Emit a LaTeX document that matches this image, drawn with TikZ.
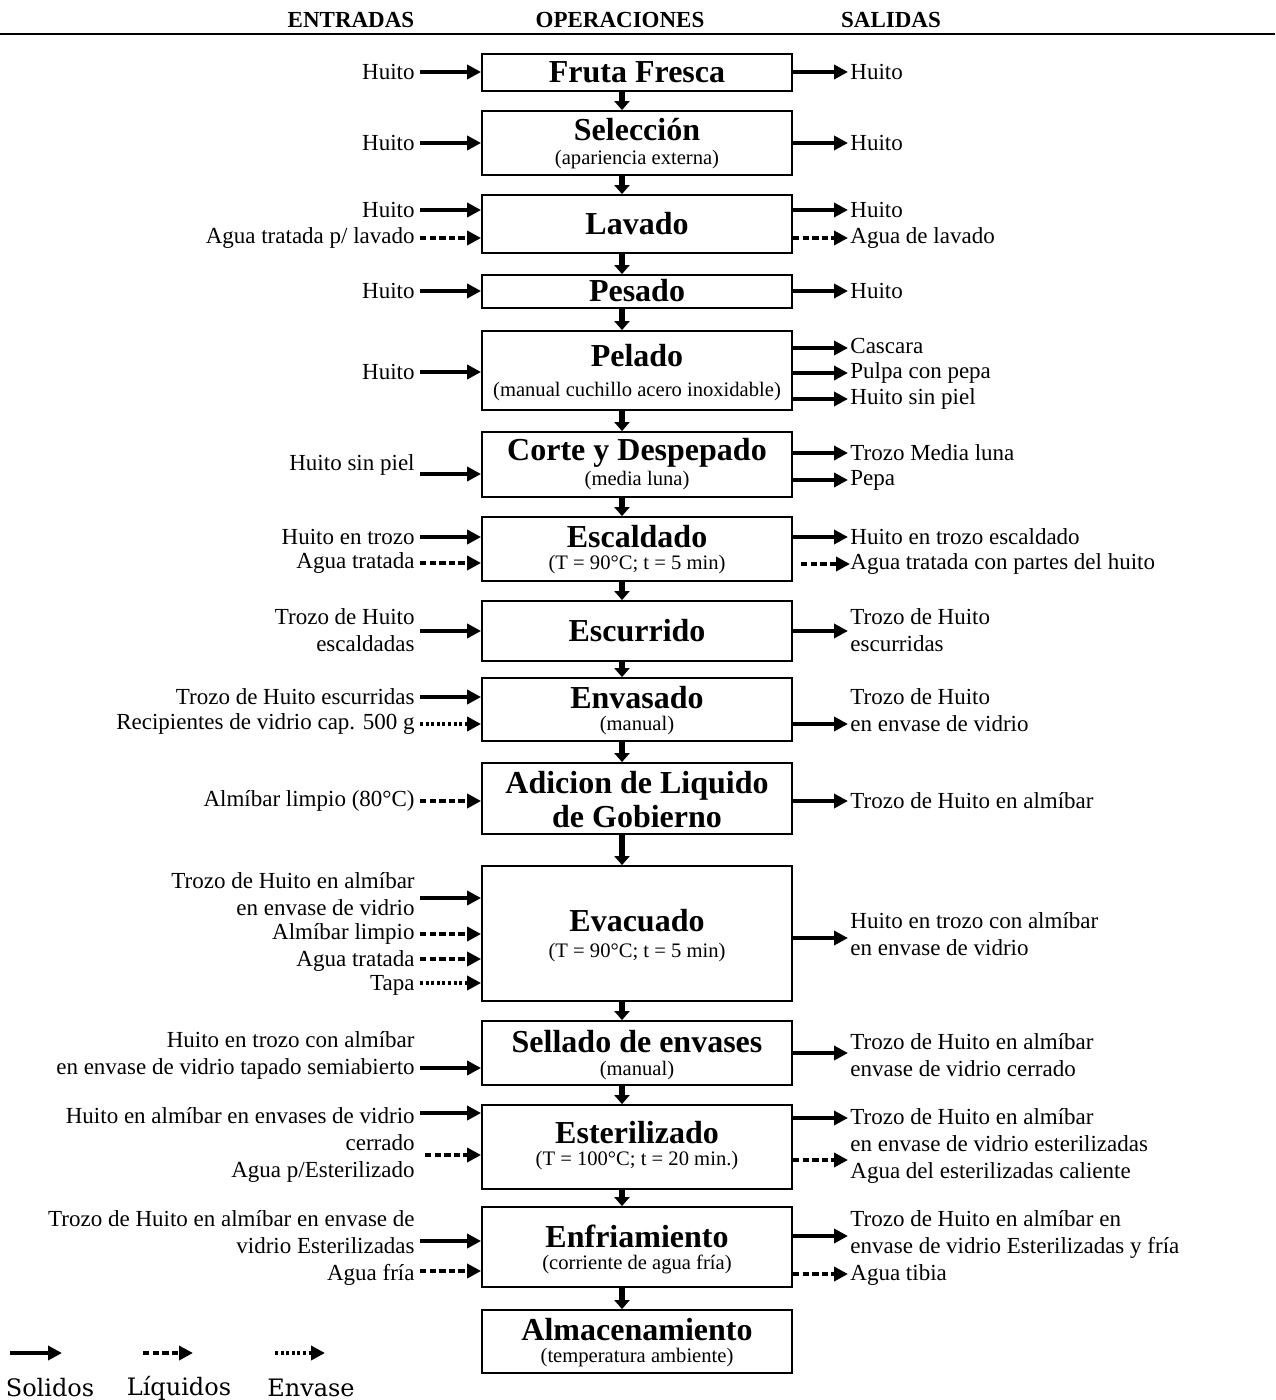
\documentclass[tikz,border=0pt]{standalone}
\usepackage{fontspec}
\setmainfont{Liberation Serif}
\newfontfamily\legfont{DejaVu Serif}
\usetikzlibrary{arrows.meta}
\tikzset{
 opbox/.style={draw, line width=0.9pt, minimum width=155pt, inner sep=0pt},
 ttl/.style={font=\fontsize{16}{17}\selectfont\bfseries, inner sep=0pt, align=center},
 subt/.style={font=\fontsize{10.3}{12}\selectfont, inner sep=0pt},
 lab/.style={font=\fontsize{11.5}{13.5}\selectfont, inner sep=0pt},
 inl/.style={lab, anchor=east, align=right},
 outl/.style={lab, anchor=west, align=left},
 sol/.style={line width=1.9pt, -{Triangle[length=7pt,width=7pt]}},
 liq/.style={sol, dash pattern=on 3.2pt off 1.6pt},
 env/.style={sol, dash pattern=on 1.5pt off 1.3pt},
 flow/.style={line width=3pt, -{Triangle[length=4.5pt,width=7.5pt]}},
 hdr/.style={font=\fontsize{11.5}{13}\selectfont\bfseries, inner sep=0pt},
 leg/.style={font=\legfont\fontsize{12}{14}\selectfont, inner sep=0pt},
}
\begin{document}
\begin{tikzpicture}[x=0.5pt,y=-0.5pt]
\useasboundingbox (0,0) rectangle (1275,1400);
% header
\node[hdr] (h1) at (351,20) {ENTRADAS};
\node[hdr] (h2) at (620,20) {OPERACIONES};
\node[hdr] (h3) at (891,20) {SALIDAS};
\coordinate (hl) at (0,34); \coordinate (hr) at (1275,34);
\draw[line width=1.2pt] (hl) -- (hr);

% boxes
\node[opbox, minimum height=18.5pt] (b1) at (637,72.5) {};
\node[opbox, minimum height=32pt] (b2) at (637,143) {};
\node[opbox, minimum height=29pt] (b3) at (637,224) {};
\node[opbox, minimum height=16.5pt] (b4) at (637,291.5) {};
\node[opbox, minimum height=39.5pt] (b5) at (637,370.5) {};
\node[opbox, minimum height=32.5pt] (b6) at (637,464.5) {};
\node[opbox, minimum height=32pt] (b7) at (637,549) {};
\node[opbox, minimum height=30pt] (b8) at (637,631) {};
\node[opbox, minimum height=31.5pt] (b9) at (637,709.5) {};
\node[opbox, minimum height=35.5pt] (b10) at (637,798.5) {};
\node[opbox, minimum height=67.5pt] (b11) at (637,933.5) {};
\node[opbox, minimum height=32pt] (b12) at (637,1053) {};
\node[opbox, minimum height=42pt] (b13) at (637,1147) {};
\node[opbox, minimum height=40pt] (b14) at (637,1247) {};
\node[opbox, minimum height=31.5pt] (b15) at (637,1341.5) {};

% box texts
\node[ttl] (t1) at (637,72) {Fruta Fresca};
\node[ttl] (t2) at (637,130) {Selección};
\node[subt] (s2) at (637,160) {(apariencia externa)};
\node[ttl] (t3) at (637,224) {Lavado};
\node[ttl] (t4) at (637,291) {Pesado};
\node[ttl] (t5) at (637,356) {Pelado};
\node[subt] (s5) at (637,392) {(manual cuchillo acero inoxidable)};
\node[ttl] (t6) at (637,453) {Corte y Despepado};
\node[subt] (s6) at (637,481) {(media luna)};
\node[ttl] (t7) at (637,537) {Escaldado};
\node[subt] (s7) at (637,565) {(T = 90°C; t = 5 min)};
\node[ttl] (t8) at (637,631) {Escurrido};
\node[ttl] (t9) at (637,698) {Envasado};
\node[subt] (s9) at (637,726) {(manual)};
\node[ttl] (t10) at (637,800) {Adicion de Liquido\\de Gobierno};
\node[ttl] (t11) at (637,921) {Evacuado};
\node[subt] (s11) at (637,953) {(T = 90°C; t = 5 min)};
\node[ttl] (t12) at (637,1042) {Sellado de envases};
\node[subt] (s12) at (637,1071) {(manual)};
\node[ttl] (t13) at (637,1133) {Esterilizado};
\node[subt] (s13) at (637,1161) {(T = 100°C; t = 20 min.)};
\node[ttl] (t14) at (637,1236) {Enfriamiento};
\node[subt] (s14) at (637,1264) {(corriente de agua fría)};
\node[ttl] (t15) at (637,1330) {Almacenamiento};
\node[subt] (s15) at (637,1358) {(temperatura ambiente)};

% flow arrows
\coordinate (vx) at (622,0);
\foreach \a/\b in {b1/b2,b2/b3,b3/b4,b4/b5,b5/b6,b6/b7,b7/b8,b8/b9,b9/b10,b10/b11,b11/b12,b12/b13,b13/b14,b14/b15}
  \draw[flow] (\a.south -| vx) -- (\b.north -| vx);

% inputs
\node[inl] (l1) at (415,72) {Huito};
\node[inl] (l2) at (415,143) {Huito};
\node[inl] (l3a) at (415,210) {Huito};
\node[inl] (l3b) at (415,238) {Agua tratada p/ lavado};
\node[inl] (l4) at (415,291) {Huito};
\node[inl] (l5) at (415,372) {Huito};
\node[inl] (l6) at (415,465) {Huito sin piel};
\node[inl] (l7a) at (415,537) {Huito en trozo};
\node[inl] (l7b) at (415,563) {Agua tratada};
\node[inl] (l8) at (415,630.5) {Trozo de Huito\\escaldadas};
\node[inl] (l9a) at (415,697) {Trozo de Huito escurridas};
\node[inl] (l9b) at (415,724) {Recipientes de vidrio cap. 500 g};
\node[inl] (l10) at (415,801) {Almíbar limpio (80°C)};
\node[inl] (l11a) at (415,894.5) {Trozo de Huito en almíbar\\en envase de vidrio};
\node[inl] (l11b) at (415,934) {Almíbar limpio};
\node[inl] (l11c) at (415,961) {Agua tratada};
\node[inl] (l11d) at (415,985) {Tapa};
\node[inl] (l12) at (415,1055) {Huito en trozo con almíbar\\en envase de vidrio tapado semiabierto};
\node[inl] (l13) at (415,1145) {Huito en almíbar en envases de vidrio\\cerrado\\Agua p/Esterilizado};
\node[inl] (l14) at (415,1247.5) {Trozo de Huito en almíbar en envase de\\vidrio Esterilizadas\\Agua fría};

\coordinate (i1) at (420,72);    \draw[sol] (i1) -- (i1 -| b1.west);
\coordinate (i2) at (420,143);   \draw[sol] (i2) -- (i2 -| b2.west);
\coordinate (i3a) at (420,210);  \draw[sol] (i3a) -- (i3a -| b3.west);
\coordinate (i3b) at (420,238);  \draw[liq] (i3b) -- (i3b -| b3.west);
\coordinate (i4) at (420,291);   \draw[sol] (i4) -- (i4 -| b4.west);
\coordinate (i5) at (420,372);   \draw[sol] (i5) -- (i5 -| b5.west);
\coordinate (i6) at (420,474);   \draw[sol] (i6) -- (i6 -| b6.west);
\coordinate (i7a) at (420,537);  \draw[sol] (i7a) -- (i7a -| b7.west);
\coordinate (i7b) at (420,563);  \draw[liq] (i7b) -- (i7b -| b7.west);
\coordinate (i8) at (420,631);   \draw[sol] (i8) -- (i8 -| b8.west);
\coordinate (i9a) at (420,697);  \draw[sol] (i9a) -- (i9a -| b9.west);
\coordinate (i9b) at (420,724);  \draw[env] (i9b) -- (i9b -| b9.west);
\coordinate (i10) at (420,801);  \draw[liq] (i10) -- (i10 -| b10.west);
\coordinate (i11a) at (420,898); \draw[sol] (i11a) -- (i11a -| b11.west);
\coordinate (i11b) at (420,934); \draw[liq] (i11b) -- (i11b -| b11.west);
\coordinate (i11c) at (420,959); \draw[liq] (i11c) -- (i11c -| b11.west);
\coordinate (i11d) at (420,983); \draw[env] (i11d) -- (i11d -| b11.west);
\coordinate (i12) at (420,1068); \draw[sol] (i12) -- (i12 -| b12.west);
\coordinate (i13a) at (420,1113); \draw[sol] (i13a) -- (i13a -| b13.west);
\coordinate (i13b) at (425,1155); \draw[liq] (i13b) -- (i13b -| b13.west);
\coordinate (i14a) at (420,1241); \draw[sol] (i14a) -- (i14a -| b14.west);
\coordinate (i14b) at (420,1271); \draw[liq] (i14b) -- (i14b -| b14.west);

% outputs
\node[outl] (r1) at (850,72) {Huito};
\node[outl] (r2) at (850,143) {Huito};
\node[outl] (r3a) at (850,210) {Huito};
\node[outl] (r3b) at (850,238) {Agua de lavado};
\node[outl] (r4) at (850,291) {Huito};
\node[outl] (r5a) at (850,346) {Cascara};
\node[outl] (r5b) at (850,373) {Pulpa con pepa};
\node[outl] (r5c) at (850,399) {Huito sin piel};
\node[outl] (r6a) at (850,453) {Trozo Media luna};
\node[outl] (r6b) at (850,480) {Pepa};
\node[outl] (r7a) at (850,537) {Huito en trozo escaldado};
\node[outl] (r7b) at (850,564) {Agua tratada con partes del huito};
\node[outl] (r8) at (850,630.5) {Trozo de Huito\\escurridas};
\node[outl] (r9) at (850,710.5) {Trozo de Huito\\en envase de vidrio};
\node[outl] (r10) at (850,801) {Trozo de Huito en almíbar};
\node[outl] (r11) at (850,934.5) {Huito en trozo con almíbar\\en envase de vidrio};
\node[outl] (r12) at (850,1055) {Trozo de Huito en almíbar\\envase de vidrio cerrado};
\node[outl] (r13) at (850,1146) {Trozo de Huito en almíbar\\en envase de vidrio esterilizadas\\Agua del esterilizadas caliente};
\node[outl] (r14) at (850,1248) {Trozo de Huito en almíbar en\\envase de vidrio Esterilizadas y fría\\Agua tibia};

\coordinate (o1) at (848,72);    \draw[sol] (o1 -| b1.east) -- (o1);
\coordinate (o2) at (848,143);   \draw[sol] (o2 -| b2.east) -- (o2);
\coordinate (o3a) at (848,210);  \draw[sol] (o3a -| b3.east) -- (o3a);
\coordinate (o3b) at (848,238);  \draw[liq] (o3b -| b3.east) -- (o3b);
\coordinate (o4) at (848,291);   \draw[sol] (o4 -| b4.east) -- (o4);
\coordinate (o5a) at (848,348);  \draw[sol] (o5a -| b5.east) -- (o5a);
\coordinate (o5b) at (848,373);  \draw[sol] (o5b -| b5.east) -- (o5b);
\coordinate (o5c) at (848,399);  \draw[sol] (o5c -| b5.east) -- (o5c);
\coordinate (o6a) at (848,453);  \draw[sol] (o6a -| b6.east) -- (o6a);
\coordinate (o6b) at (848,480);  \draw[sol] (o6b -| b6.east) -- (o6b);
\coordinate (o7a) at (848,537);  \draw[sol] (o7a -| b7.east) -- (o7a);
\coordinate (o7b) at (850,564);  \draw[liq] ([xshift=4pt]o7b -| b7.east) -- (o7b);
\coordinate (o8) at (848,631);   \draw[sol] (o8 -| b8.east) -- (o8);
\coordinate (o9) at (848,724);   \draw[sol] (o9 -| b9.east) -- (o9);
\coordinate (o10) at (848,801);  \draw[sol] (o10 -| b10.east) -- (o10);
\coordinate (o11) at (848,938);  \draw[sol] (o11 -| b11.east) -- (o11);
\coordinate (o12) at (848,1053); \draw[sol] (o12 -| b12.east) -- (o12);
\coordinate (o13a) at (848,1118); \draw[sol] (o13a -| b13.east) -- (o13a);
\coordinate (o13b) at (848,1160); \draw[liq] (o13b -| b13.east) -- (o13b);
\coordinate (o14a) at (848,1236); \draw[sol] (o14a -| b14.east) -- (o14a);
\coordinate (o14b) at (848,1274); \draw[liq] (o14b -| b14.east) -- (o14b);

% legend
\coordinate (k1s) at (10,1353);  \coordinate (k1e) at (62,1353);  \draw[sol] (k1s) -- (k1e);
\coordinate (k2s) at (143,1353); \coordinate (k2e) at (193,1353); \draw[liq] (k2s) -- (k2e);
\coordinate (k3s) at (275,1353); \coordinate (k3e) at (325,1353); \draw[env] (k3s) -- (k3e);
\node[leg] (g1) at (50,1388) {Solidos};
\node[leg] (g2) at (179,1388) {Líquidos};
\node[leg] (g3) at (311,1388) {Envase};
\end{tikzpicture}
\end{document}
